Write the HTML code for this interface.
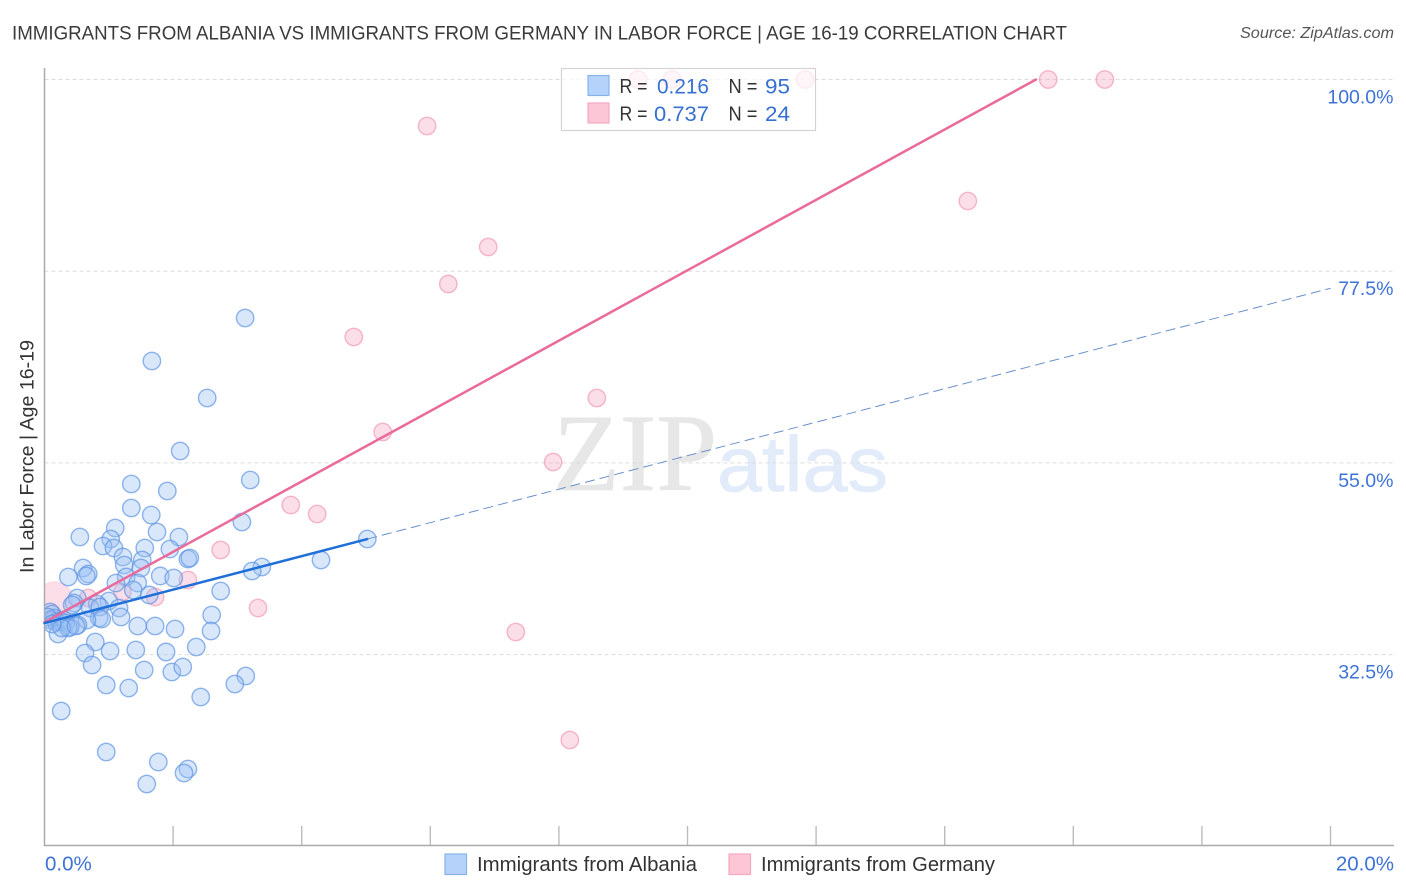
<!DOCTYPE html>
<html lang="en">
<head>
<meta charset="utf-8">
<title>Immigrants from Albania vs Immigrants from Germany in Labor Force</title>
<style>
html,body{margin:0;padding:0;background:#fff;width:1406px;height:892px;overflow:hidden}
svg{display:block}
text{font-family:"Liberation Sans",sans-serif}
</style>
</head>
<body>
<svg id="chart" width="1406" height="892" viewBox="0 0 1406 892" xmlns="http://www.w3.org/2000/svg">
  <defs>
    <clipPath id="plot-clip"><rect x="45" y="60" width="1349" height="786"/></clipPath>
  </defs>
  <rect x="0" y="0" width="1406" height="892" fill="#fff"/>
  <text x="12" y="39.5" font-size="19.5" fill="#3a3a3a" textLength="1055" lengthAdjust="spacingAndGlyphs">IMMIGRANTS FROM ALBANIA VS IMMIGRANTS FROM GERMANY IN LABOR FORCE | AGE 16-19 CORRELATION CHART</text>
  <text x="1394" y="38" font-size="15.5" font-style="italic" fill="#555" text-anchor="end" textLength="154" lengthAdjust="spacingAndGlyphs">Source: ZipAtlas.com</text>
  <text x="553" y="490" font-size="110" fill="#e7e7e7" stroke="#e7e7e7" stroke-width="0.8" style="font-family:'Liberation Serif',serif" textLength="164" lengthAdjust="spacingAndGlyphs">ZIP</text>
  <text x="717" y="491" font-size="78" fill="#e2ebf9" stroke="#e2ebf9" stroke-width="0.8" textLength="171" lengthAdjust="spacingAndGlyphs">atlas</text>
  <g id="grid"></g>
  <g id="axes"></g>
  <g clip-path="url(#plot-clip)">
    <g id="points-germany"></g>
    <g id="points-albania"></g>
  </g>
  <g id="trends"></g>
  <g id="labels"></g>
  <text transform="translate(33.5,456.5) rotate(-90)" font-size="19.5" fill="#333" text-anchor="middle" textLength="233" lengthAdjust="spacingAndGlyphs">In Labor Force | Age 16-19</text>

  <g>
    <rect x="561.5" y="68.5" width="254" height="62" fill="#fff" fill-opacity="0.72" stroke="#d4d4d4" stroke-width="1.2"/>
    <rect x="588" y="75.5" width="21" height="20" fill="#b5d3fa" stroke="#86b3ea" stroke-width="1.2"/>
    <rect x="588" y="103" width="21" height="20" fill="#fdc6d7" stroke="#f5a9c1" stroke-width="1.2"/>
    <text x="619.5" y="93" font-size="20" fill="#333" textLength="28" lengthAdjust="spacingAndGlyphs">R =</text>
    <text x="657" y="93.5" font-size="21.5" fill="#3670d2" textLength="52" lengthAdjust="spacingAndGlyphs">0.216</text>
    <text x="728.5" y="93" font-size="20" fill="#333" textLength="29" lengthAdjust="spacingAndGlyphs">N =</text>
    <text x="765" y="93.5" font-size="21.5" fill="#3670d2" textLength="25" lengthAdjust="spacingAndGlyphs">95</text>
    <text x="619.5" y="120.5" font-size="20" fill="#333" textLength="28" lengthAdjust="spacingAndGlyphs">R =</text>
    <text x="654" y="121" font-size="21.5" fill="#3670d2" textLength="55" lengthAdjust="spacingAndGlyphs">0.737</text>
    <text x="728.5" y="120.5" font-size="20" fill="#333" textLength="29" lengthAdjust="spacingAndGlyphs">N =</text>
    <text x="765" y="121" font-size="21.5" fill="#3670d2" textLength="25" lengthAdjust="spacingAndGlyphs">24</text>
  </g>

  <g>
    <g>
      <rect x="445" y="854" width="21.5" height="20.5" fill="#b5d3fa" stroke="#86b3ea" stroke-width="1.2"/>
      <text x="477" y="871" font-size="20" fill="#333" textLength="220" lengthAdjust="spacingAndGlyphs">Immigrants from Albania</text>
    </g>
    <g>
      <rect x="729" y="854" width="21.5" height="20.5" fill="#fdc6d7" stroke="#f5a9c1" stroke-width="1.2"/>
      <text x="761" y="871" font-size="20" fill="#333" textLength="234" lengthAdjust="spacingAndGlyphs">Immigrants from Germany</text>
    </g>
  </g>
</svg>
<script>
const albaniaX = [3.12,1.67,2.53,2.11,3.20,1.35,1.91,1.35,1.66,3.07,1.10,1.75,0.55,2.09,1.03,0.91,1.08,1.56,1.95,1.22,2.23,2.26,1.52,4.30,5.02,3.38,3.23,0.60,1.24,1.50,0.68,0.65,0.37,1.27,1.80,2.01,1.11,1.45,1.38,1.63,2.74,0.51,0.46,0.43,1.00,0.82,0.71,0.86,1.16,2.60,1.19,0.85,0.89,0.66,0.52,1.45,1.72,2.03,2.59,0.79,0.63,1.02,1.42,1.89,2.36,0.74,1.55,1.98,2.15,3.13,2.96,0.96,1.31,2.43,0.26,0.96,1.77,2.23,2.17,1.59,0.09,0.12,0.15,0.09,0.18,0.24,0.30,0.33,0.21,0.40,0.37,0.27,0.05,0.12,0.49];
const albaniaY = [72.01,66.96,62.62,56.40,52.99,52.52,51.70,49.71,48.88,48.06,47.36,46.89,46.30,46.30,46.07,45.25,45.01,45.01,44.89,43.96,43.72,43.84,43.60,43.60,46.07,42.78,42.31,42.66,43.02,42.66,41.96,41.73,41.61,41.61,41.73,41.49,40.90,40.90,40.08,39.50,39.96,39.14,38.56,38.32,38.79,38.44,37.97,38.09,37.97,37.15,36.91,36.80,36.68,36.56,35.97,35.86,35.86,35.50,35.27,33.98,32.69,32.92,33.04,32.81,33.39,31.28,30.69,30.46,31.04,29.99,29.05,28.93,28.58,27.52,25.88,21.07,19.89,19.07,18.60,17.31,37.50,37.26,36.80,36.56,36.33,36.45,36.56,36.21,34.92,35.74,35.62,35.62,36.91,36.09,35.86];
const germanyX = [0.16,9.23,9.76,11.83,15.61,16.49,5.95,14.36,6.90,6.28,4.81,8.59,5.26,7.91,3.83,4.24,2.74,2.23,1.72,1.21,0.68,3.32,7.33,8.17];
const germanyY = [38.95,100,100,100,100,100,94.54,85.74,80.34,76.00,69.78,62.62,58.63,55.11,50.06,49.00,44.78,41.26,39.26,39.85,39.14,37.97,35.15,22.48];
const largeBubbleIndex = 0;
const albaniaTrendX = [0, 5.02, 20];
const albaniaTrendY = [36.2, 46.06, 75.5];
const germanyTrendX = [0, 15.42];
const germanyTrendY = [36.3, 100];
const yTickValues = [100, 77.5, 55, 32.5];
const yTickLabels = ["100.0%", "77.5%", "55.0%", "32.5%"];
const xTickValues = [0, 2, 4, 6, 8, 10, 12, 14, 16, 18, 20];
const xEndValues = [0, 20];
const xEndLabels = ["0.0%", "20.0%"];

const NS = "http://www.w3.org/2000/svg";
const sx = function (v) { return 44.5 + v * 64.3; };
const sy = function (v) { return 79.5 + (100 - v) * 8.52; };

function make(tag, parentId, attrs) {
  const el = document.createElementNS(NS, tag);
  Object.keys(attrs).forEach(function (k) { el.setAttribute(k, attrs[k]); });
  document.getElementById(parentId).appendChild(el);
  return el;
}

yTickValues.forEach(function (v, i) {
  const line = make("line", "grid", {x1: 44.5, x2: 1394, y1: sy(v), y2: sy(v), stroke: "#dcdcdc", "stroke-width": 1, "stroke-dasharray": "4 3"});
  
  
  const label = make("text", "labels", {x: 1393.5, y: sy(v) + 24, "font-size": 19.5, fill: "#3d72d6", "text-anchor": "end"});
  label.textContent = yTickLabels[i];
  
  
});

xTickValues.forEach(function (v) {
  if (v === 0) return;
  const tick = make("line", "axes", {x1: sx(v), x2: sx(v), y1: 826, y2: 845.5, stroke: "#bcbcbc", "stroke-width": 1.4});
  
  
});

const yAxisLine = make("line", "axes", {x1: 44.5, x2: 44.5, y1: 68, y2: 846, stroke: "#aaaaaa", "stroke-width": 1.5});


const xAxisLine = make("line", "axes", {x1: 44, x2: 1394, y1: 845.5, y2: 845.5, stroke: "#aaaaaa", "stroke-width": 1.5});



xEndValues.forEach(function (v, i) {
  const label = make("text", "labels", {x: i === 0 ? sx(v) + 0.5 : 1394, y: 870.5, "font-size": 20.5, fill: "#3d72d6", "text-anchor": i === 0 ? "start" : "end"});
  label.textContent = xEndLabels[i];
  
  
});

germanyX.forEach(function (v, i) {
  const isLarge = i === largeBubbleIndex;
  const dot = make("circle", "points-germany", {cx: sx(v), cy: sy(germanyY[i]), r: isLarge ? 18 : 8.7, fill: "#f8a9c3", "fill-opacity": 0.38, stroke: "#ee8aad", "stroke-opacity": isLarge ? 0.15 : 0.6, "stroke-width": 1.4});
  
  
});

albaniaX.forEach(function (v, i) {
  const dot = make("circle", "points-albania", {cx: sx(v), cy: sy(albaniaY[i]), r: 8.7, fill: "#9cc1f5", "fill-opacity": 0.38, stroke: "#5f95e2", "stroke-opacity": 0.7, "stroke-width": 1.4});
  
  
});

const germanyTrend = make("line", "trends", {x1: sx(germanyTrendX[0]), y1: sy(germanyTrendY[0]), x2: sx(germanyTrendX[1]), y2: sy(germanyTrendY[1]), stroke: "#e96a9b", "stroke-width": 2.5, "stroke-linecap": "round"});


const albaniaSolid = make("line", "trends", {x1: sx(albaniaTrendX[0]), y1: sy(albaniaTrendY[0]), x2: sx(albaniaTrendX[1]), y2: sy(albaniaTrendY[1]), stroke: "#1f6fd8", "stroke-width": 2.5, "stroke-linecap": "round"});


const albaniaDashed = make("line", "trends", {x1: sx(albaniaTrendX[1]), y1: sy(albaniaTrendY[1]), x2: sx(albaniaTrendX[2]), y2: sy(albaniaTrendY[2]), stroke: "#6a90cc", "stroke-width": 1, "stroke-dasharray": "10 5"});


</script>
</body>
</html>
